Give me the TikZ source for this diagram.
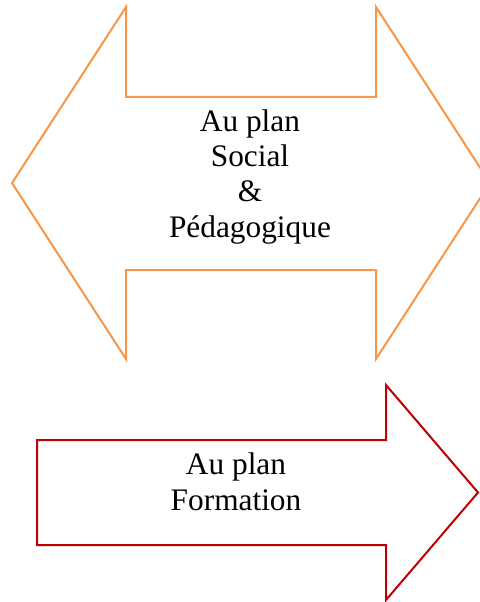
\documentclass[tikz,border=0pt]{standalone}
\usepackage{fontspec}
\setmainfont{Liberation Serif}
\usepackage{xcolor}
\usepackage{tikz}
\usetikzlibrary{calc,positioning}
\definecolor{plansocial}{RGB}{247,150,70}
\definecolor{planformation}{RGB}{192,0,0}
\tikzset{
	% Specifications for style of arrows and labels:
	social/.style = {draw=plansocial, line width=1.5pt, line join=miter},
	formation/.style = {draw=planformation, line width=1.5pt, line join=miter},
	label/.style = {align=center, inner sep=0pt,
	font=\fontsize{23.5}{26.4}\selectfont},
}

\begin{document}
\begin{tikzpicture}[x=0.75pt, y=-0.75pt]
		\useasboundingbox (0,0) rectangle (479,602);
		% draw double arrow (social)
		\draw[social] (12,183) -- (126,7) -- (126,97) -- (376,97) -- (376,7) -- (490,183)
			-- (376,359) -- (376,270) -- (126,270) -- (126,359) -- cycle;
		% draw single arrow (formation)
		\draw[formation] (37,440) -- (386,440) -- (386,385) -- (478,492.5)
			-- (386,600) -- (386,545) -- (37,545) -- cycle;
		% labels (base = last line)
		\node (social)[label, anchor=base] at (250,237) {Au plan\\Social\\\&\\Pédagogique};
		\node (formation)[label, anchor=base] at (236,510) {Au plan\\Formation};
\end{tikzpicture}
\end{document}
